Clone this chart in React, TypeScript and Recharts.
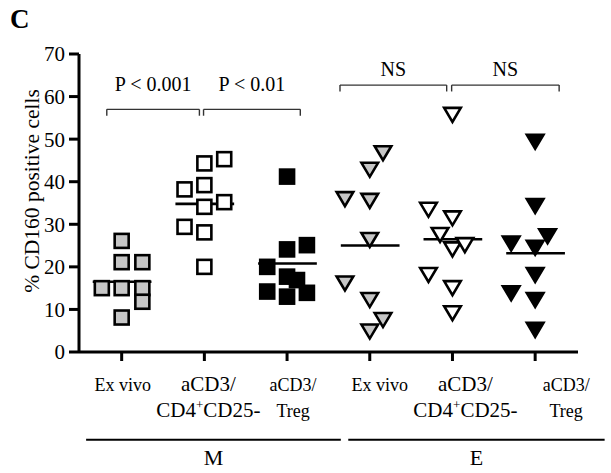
import React from "react";
import { ScatterChart, Scatter, XAxis, YAxis, ReferenceLine, ReferenceDot } from "recharts";

// groups along the x axis (1..6), labels split in lines
const categoryLabels = [
  ["Ex vivo"],
  ["aCD3/", "CD4+CD25-"],
  ["aCD3/", "Treg"],
  ["Ex vivo"],
  ["aCD3/", "CD4+CD25-"],
  ["aCD3/", "Treg"],
];
const yTicks = [0, 10, 20, 30, 40, 50, 60, 70];
const xTicks = [1, 2, 3, 4, 5, 6];

// each point: x = group position (with the jitter seen in the figure), y = % CD160+ cells
const mExVivo = [
  { x: 1.0, y: 26.1 }, { x: 1.0, y: 21.1 }, { x: 1.25, y: 21.1 }, { x: 0.76, y: 15.0 },
  { x: 1.0, y: 15.0 }, { x: 1.25, y: 15.0 }, { x: 1.25, y: 11.8 }, { x: 1.0, y: 8.1 },
];
const mCD25neg = [
  { x: 2.24, y: 45.3 }, { x: 2.0, y: 44.3 }, { x: 1.76, y: 38.2 }, { x: 2.0, y: 39.2 },
  { x: 2.0, y: 34.1 }, { x: 2.24, y: 35.2 }, { x: 1.76, y: 29.4 }, { x: 2.0, y: 28.1 },
  { x: 2.0, y: 20.0 },
];
const mTreg = [
  { x: 3.0, y: 41.2 }, { x: 3.0, y: 24.1 }, { x: 3.24, y: 25.1 }, { x: 2.76, y: 20.0 },
  { x: 3.0, y: 17.7 }, { x: 3.12, y: 16.9 }, { x: 2.76, y: 14.2 }, { x: 3.0, y: 13.0 },
  { x: 3.24, y: 13.9 },
];
const eExVivo = [
  { x: 4.16, y: 46.7 }, { x: 4.0, y: 42.8 }, { x: 3.7, y: 35.9 }, { x: 4.0, y: 35.5 },
  { x: 4.0, y: 26.3 }, { x: 3.7, y: 16.1 }, { x: 4.0, y: 12.2 }, { x: 4.16, y: 7.5 },
  { x: 4.0, y: 4.8 },
];
const eCD25neg = [
  { x: 5.0, y: 55.7 }, { x: 4.71, y: 33.4 }, { x: 5.0, y: 31.4 }, { x: 4.85, y: 27.5 },
  { x: 5.0, y: 24.1 }, { x: 5.15, y: 25.1 }, { x: 4.71, y: 18.1 }, { x: 5.0, y: 15.0 },
  { x: 5.0, y: 9.1 },
];
const eTreg = [
  { x: 6.0, y: 49.4 }, { x: 6.0, y: 34.3 }, { x: 6.15, y: 27.2 }, { x: 5.71, y: 25.5 },
  { x: 6.0, y: 24.5 }, { x: 6.0, y: 18.1 }, { x: 5.71, y: 13.8 }, { x: 6.0, y: 12.2 },
  { x: 6.0, y: 5.2 },
];
// horizontal bars = group means
const means = [16.5, 34.8, 20.8, 25.0, 26.5, 23.2];

const comparisons = [
  { from: 0.82, to: 1.94, y: 57.0, textY: 61.2, label: "P < 0.001" },
  { from: 1.99, to: 3.16, y: 57.0, textY: 61.2, label: "P < 0.01" },
  { from: 3.64, to: 4.93, y: 62.7, textY: 64.9, label: "NS" },
  { from: 4.99, to: 6.29, y: 62.7, textY: 64.9, label: "NS" },
];
const tissues = [
  { name: "M", from: 0.57, to: 3.65 },
  { name: "E", from: 3.74, to: 6.84 },
];

const FONT = "'Liberation Serif', 'Times New Roman', serif";
const GRAY = "#c6c6c6";
const labelSizes = [18, 21, 18, 18, 21, 18];
const labelShift = [1, 4, 6, 10, 13, 31];

const square = (fill: string) => (p: any) => (
  <rect x={p.cx - 7} y={p.cy - 7} width={14} height={14} fill={fill} stroke="#000" strokeWidth={2.6} />
);
const triangle = (fill: string) => (p: any) => (
  <polygon
    points={`${p.cx - 8.3},${p.cy - 7} ${p.cx + 8.3},${p.cy - 7} ${p.cx},${p.cy + 7}`}
    fill={fill}
    stroke="#000"
    strokeWidth={2.6}
  />
);

function lineText(line: string) {
  if (line.startsWith("CD4+")) {
    return (
      <>
        <tspan>CD4</tspan>
        <tspan dy={-8} fontSize={13}>+</tspan>
        <tspan dy={8}>{line.slice(4)}</tspan>
      </>
    );
  }
  return line;
}

function CategoryTick(props: any) {
  const { x, y, payload } = props;
  const i = Math.round(payload.value) - 1;
  const lines = categoryLabels[i];
  if (!lines) return null;
  return (
    <g>
      {lines.map((line, k) => (
        <text
          key={k}
          x={x + labelShift[i]}
          y={y + 30 + k * 26}
          textAnchor="middle"
          fontSize={labelSizes[i]}
          fontFamily={FONT}
          fill="#000"
        >
          {lineText(line)}
        </text>
      ))}
    </g>
  );
}

function textShape(label: string, size: number) {
  return (p: any) => (
    <text x={p.cx} y={p.cy} textAnchor="middle" fontSize={size} fontFamily={FONT} fill="#000">
      {label}
    </text>
  );
}

const series = [
  { data: mExVivo, shape: square(GRAY) },
  { data: mCD25neg, shape: square("#fff") },
  { data: mTreg, shape: square("#000") },
  { data: eExVivo, shape: triangle(GRAY) },
  { data: eCD25neg, shape: triangle("#fff") },
  { data: eTreg, shape: triangle("#000") },
];

export default function App() {
  return (
    <div style={{ position: "absolute", left: 0, top: 0, width: 611, height: 473, background: "#fff" }}>
      <ScatterChart width={611} height={473} margin={{ top: 54, right: 33, bottom: 0, left: 0 }}>
        <XAxis
          type="number"
          dataKey="x"
          domain={[0.484, 6.518]}
          ticks={xTicks}
          interval={0}
          height={121}
          tickSize={9}
          tickMargin={0}
          axisLine={{ stroke: "#000", strokeWidth: 3 }}
          tickLine={{ stroke: "#000", strokeWidth: 3 }}
          tick={<CategoryTick />}
        />
        <YAxis
          type="number"
          dataKey="y"
          domain={[0, 70]}
          ticks={yTicks}
          interval={0}
          width={79}
          tickSize={10}
          tickMargin={4}
          axisLine={{ stroke: "#000", strokeWidth: 3 }}
          tickLine={{ stroke: "#000", strokeWidth: 3 }}
          tick={{ fill: "#000", fontSize: 21, fontFamily: FONT }}
          label={{
            content: (p: any) => {
              const vb = p.viewBox || { x: 0, y: 54, height: 298 };
              const cx = vb.x + 32;
              const cy = vb.y + vb.height / 2 - 12;
              return (
                <g>
                  <text x={10} y={28} fontSize={27} fontWeight="bold" fontFamily={FONT} fill="#000">C</text>
                  <text
                    x={cx}
                    y={cy}
                    transform={`rotate(-90 ${cx} ${cy})`}
                    textAnchor="middle"
                    dominantBaseline="central"
                    fontSize={21.5}
                    fontFamily={FONT}
                    fill="#000"
                  >
                    % CD160 positive cells
                  </text>
                </g>
              );
            },
          }}
        />
        {series.map((s, i) => (
          <Scatter key={i} data={s.data} shape={s.shape} isAnimationActive={false} />
        ))}
        {means.map((m, i) => (
          <ReferenceLine
            key={`mean${i}`}
            segment={[{ x: i + 1 - 0.35, y: m }, { x: i + 1 + 0.36, y: m }]}
            stroke="#000"
            strokeWidth={2.6}
            ifOverflow="visible"
          />
        ))}
        {comparisons.map((c, i) => (
          <React.Fragment key={`cmp${i}`}>
            <ReferenceLine segment={[{ x: c.from, y: c.y }, { x: c.to, y: c.y }]} stroke="#333" strokeWidth={1.4} ifOverflow="visible" />
            <ReferenceLine segment={[{ x: c.from, y: c.y }, { x: c.from, y: c.y - 1.5 }]} stroke="#333" strokeWidth={1.4} ifOverflow="visible" />
            <ReferenceLine segment={[{ x: c.to, y: c.y }, { x: c.to, y: c.y - 1.5 }]} stroke="#333" strokeWidth={1.4} ifOverflow="visible" />
            <ReferenceDot x={(c.from + c.to) / 2} y={c.textY} r={0} ifOverflow="visible" shape={textShape(c.label, 20)} />
          </React.Fragment>
        ))}
        {tissues.map((t, i) => (
          <React.Fragment key={`tis${i}`}>
            <ReferenceLine segment={[{ x: t.from, y: -20.6 }, { x: t.to, y: -20.6 }]} stroke="#000" strokeWidth={2} ifOverflow="visible" />
            <ReferenceDot x={(t.from + t.to) / 2} y={-26.6} r={0} ifOverflow="visible" shape={textShape(t.name, 22)} />
          </React.Fragment>
        ))}
      </ScatterChart>
    </div>
  );
}
